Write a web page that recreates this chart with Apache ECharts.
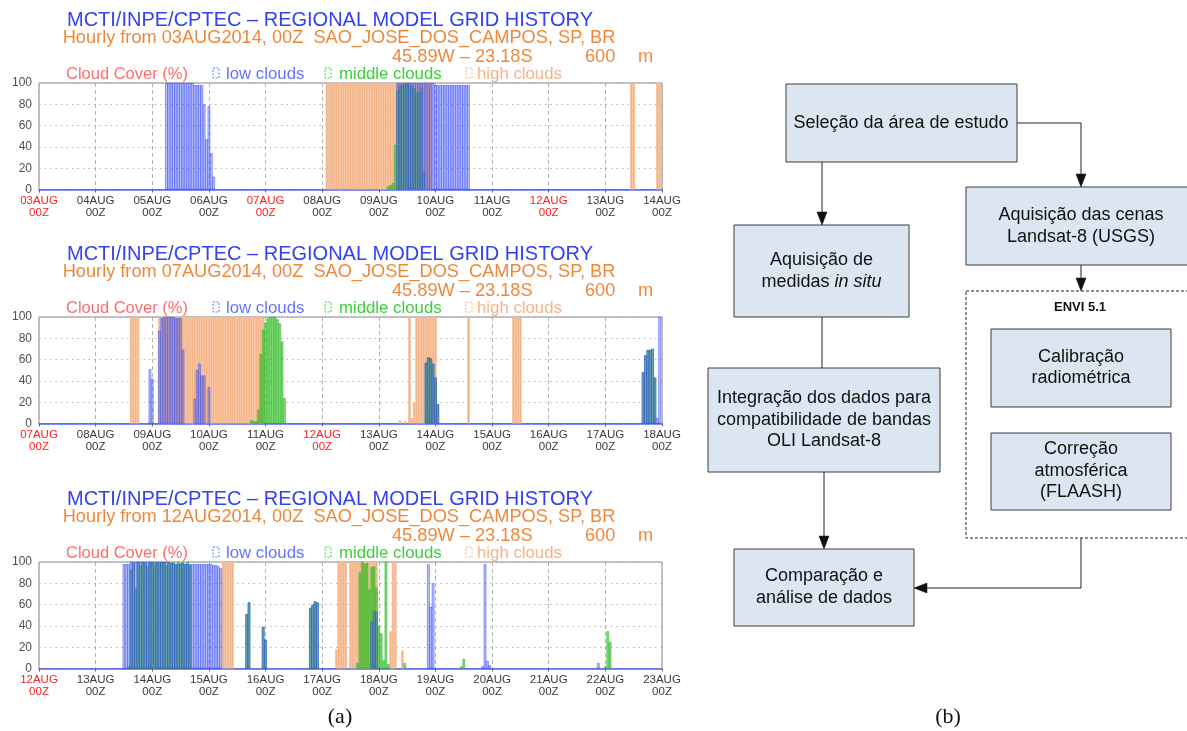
<!DOCTYPE html>
<html><head><meta charset="utf-8">
<script src="https://cdn.jsdelivr.net/npm/echarts@6/dist/echarts.min.js"></script>
<style>html,body{margin:0;padding:0;background:#fff}#c{width:1187px;height:731px}</style>
</head><body><div id="c"></div>
<script>
// ---------- text / tick labels ----------
const titleText = 'MCTI/INPE/CPTEC – REGIONAL MODEL GRID HISTORY';
const startDates = ['03AUG2014', '07AUG2014', '12AUG2014'];
const siteText = 'SAO_JOSE_DOS_CAMPOS, SP, BR';
const coordParts = ['45.89W – 23.18S', '600', 'm'];
const legendTitle = 'Cloud Cover (%)';
const legendNames = ['low clouds', 'middle clouds', 'high clouds'];
const days1 = ['03AUG','04AUG','05AUG','06AUG','07AUG','08AUG','09AUG','10AUG','11AUG','12AUG','13AUG','14AUG'];
const days2 = ['07AUG','08AUG','09AUG','10AUG','11AUG','12AUG','13AUG','14AUG','15AUG','16AUG','17AUG','18AUG'];
const days3 = ['12AUG','13AUG','14AUG','15AUG','16AUG','17AUG','18AUG','19AUG','20AUG','21AUG','22AUG','23AUG'];
const redDays = ['03AUG','07AUG','12AUG'];
const hourLabel = '00Z';
const yTicks = [0, 20, 40, 60, 80, 100];

// ---------- series values: [hour since start, cloud cover %] ----------
const low1 = [[54,100],[55,100],[56,100],[57,100],[58,100],[59,100],[60,100],[61,100],[62,100],[63,100],[64,100],[65,100],[66,98],[67,98],[68,98],[69,98],[70,80],[71,47],[72,78],[73,34],[74,12],
[152,100],[153,100],[154,100],[155,100],[156,100],[157,100],[158,100],[159,100],[160,100],[161,100],[162,100],[163,100],[164,100],[165,100],[166,100],[167,100],[168,98],[169,98],[170,98],[171,98],[172,98],[173,98],[174,98],[175,98],[176,98],[177,98],[178,98],[179,98],[180,98],[181,98],[182,98]];
const mid1 = [[148,3],[149,4],[150,6],[151,42],[152,93],[153,97],[154,98],[155,99],[156,100],[157,98],[158,97],[159,95],[160,91],[161,92],[162,96],[163,17]];
const high1 = [[122,100],[123,100],[124,100],[125,100],[126,100],[127,100],[128,100],[129,100],[130,100],[131,100],[132,100],[133,100],[134,100],[135,100],[136,100],[137,100],[138,100],[139,100],[140,100],[141,100],[142,100],[143,100],[144,100],[145,100],[146,100],[147,100],[148,100],[149,100],[150,100],[151,100],[152,100],[153,100],[154,100],[155,100],[156,100],[157,100],[158,100],[159,100],[160,100],[161,100],[162,100],[163,100],[164,100],[165,100],[166,100],
[251,100],[252,100],[262,100],[263,100]];

const low2 = [[47,51],[48,42],[51,87],[52,99],[53,100],[54,100],[55,100],[56,100],[57,100],[58,99],[59,99],[60,99],[61,69],[66,23],[67,50],[68,56],[69,45],[70,45],[72,34],
[164,57],[165,62],[166,61],[167,56],[168,43],[169,18],[256,48],[257,64],[258,69],[259,69],[260,70],[261,43],[262,5],[263,100]];
const mid2 = [[90,3],[91,2],[92,2],[93,13],[94,65],[95,88],[96,95],[97,99],[98,100],[99,100],[100,100],[101,98],[102,94],[103,77],[104,24],
[164,57],[165,62],[166,61],[167,56],[168,43],[169,18],[256,48],[257,64],[258,69],[259,69],[260,70],[261,43]];
const high2 = [[39,100],[40,100],[41,100],[42,100],
[51,100],[52,100],[53,100],[54,100],[55,100],[56,100],[57,100],[58,100],[59,100],[60,100],[61,100],[62,100],[63,100],[64,100],[65,100],[66,100],[67,100],[68,100],[69,100],[70,100],[71,100],[72,100],[73,100],[74,100],[75,100],[76,100],[77,100],[78,100],[79,100],[80,100],[81,100],[82,100],[83,100],[84,100],[85,100],[86,100],[87,100],[88,100],[89,100],[90,100],[91,100],[92,100],[93,100],[94,100],[95,100],
[153,3],[155,2],[157,100],[158,5],[159,20],[160,100],[161,100],[162,100],[163,100],[164,100],[165,100],[166,100],[167,100],[168,100],[182,100],[201,100],[202,100],[203,100],[204,100]];

const low3 = [[36,98],[37,98],[38,98],[39,100],[40,100],[41,100],[42,100],[43,100],[44,100],[45,100],[46,100],[47,100],[48,100],[49,100],[50,100],[51,100],[52,100],[53,100],[54,100],[55,100],[56,99],[57,99],[58,98],[59,98],[60,98],[61,99],[62,98],[63,98],[64,98],[65,98],[66,98],[67,98],[68,98],[69,98],[70,98],[71,98],[72,98],[73,98],[74,97],[75,97],[76,96],[77,94],
[88,51],[89,62],[95,39],[96,27],[115,57],[116,60],[117,63],[118,62],[141,44],[142,54],[143,53],[165,98],[166,58],[167,80],[188,2],[189,98],[190,7],[191,3],[237,5]];
const mid3 = [[38,2],[39,93],[40,99],[41,75],[42,100],[43,97],[44,100],[45,99],[46,96],[47,100],[48,100],[49,98],[50,100],[51,99],[52,100],[53,100],[54,97],[55,100],[56,99],[57,100],[58,98],[59,100],[60,99],[61,100],[62,98],[63,100],[64,97],
[88,51],[89,62],[95,39],[96,27],[115,57],[116,60],[117,63],[118,62],
[135,5],[136,90],[137,100],[138,98],[139,99],[140,74],[141,95],[142,96],[143,76],[144,40],[145,33],[146,8],[147,100],[148,4],[155,5],[179,2],[180,9],[240,2],[241,35],[242,25]];
const high3 = [[78,100],[79,100],[80,100],[81,100],[82,100],
[126,18],[127,100],[128,100],[129,100],[130,100],[132,100],[133,100],[134,100],[135,100],[136,100],[137,100],[138,100],[139,100],[140,100],[141,100],[142,100],[143,100],[149,35],[150,100],[151,100],[154,17]];

// ---------- flowchart texts ----------
const flowBoxes = [
  'Seleção da área de estudo',
  'Aquisição de\nmedidas {i|in situ}',
  'Aquisição das cenas\nLandsat-8 (USGS)',
  'Calibração\nradiométrica',
  'Correção\natmosférica\n(FLAASH)',
  'Integração dos dados para\ncompatibilidade de bandas\nOLI Landsat-8',
  'Comparação e\nanálise de dados'
];
const groupLabel = 'ENVI 5.1';
const panelLabels = ['(a)', '(b)'];

// ---------- build ----------
const FONT = '"Liberation Sans", Arial, sans-serif';
const dayArrays = [days1, days2, days3];
const lows = [low1, low2, low3], mids = [mid1, mid2, mid3], highs = [high1, high2, high3];
const tops = [83, 317, 562];
const PLOT_L = 39, PLOT_W = 623, PLOT_H = 106.5;

const C_TITLE = '#3440f2', C_SUB = '#f0883c', C_CC = '#ff6c6c';
const C_LOW = '#6474ff', C_MID = '#3ccf3c', C_HIGH = '#f4b487';

const grids = [], xAxes = [], yAxes = [], series = [], graphics = [];
for (let i = 0; i < 3; i++) {
  const days = dayArrays[i];
  grids.push({left: PLOT_L, top: tops[i], width: PLOT_W, height: PLOT_H, show: true,
    borderColor: '#858585', borderWidth: 1, backgroundColor: '#fff'});
  xAxes.push({type: 'value', gridIndex: i, min: 0, max: (days.length - 1) * 24, interval: 24,
    axisLine: {show: true, onZero: false, lineStyle: {color: '#5464ff', width: 1.6}},
    axisTick: {show: true, length: 3, lineStyle: {color: '#666'}},
    splitLine: {show: true, lineStyle: {color: '#b4b4b4', type: [4, 3], width: 1}},
    axisLabel: {margin: 5, showMinLabel: true, showMaxLabel: true,
      formatter: v => { const d = days[Math.round(v / 24)]; const k = redDays.includes(d) ? 'r' : 'k';
        return '{' + k + '|' + d + '}\n{' + k + '|' + hourLabel + '}'; },
      rich: {k: {color: '#3a3a3a', fontSize: 11.5, lineHeight: 12, fontFamily: FONT},
             r: {color: '#ff1e1e', fontSize: 11.5, lineHeight: 12, fontFamily: FONT}}}
  });
  yAxes.push({type: 'value', gridIndex: i, min: yTicks[0], max: yTicks[yTicks.length - 1], interval: 20,
    axisLine: {show: false}, axisTick: {show: false},
    splitLine: {show: true, lineStyle: {color: '#b4b4b4', type: [1.5, 4], width: 1}},
    axisLabel: {color: '#505050', fontSize: 12, fontFamily: FONT, margin: 7}
  });
  const common = {type: 'bar', xAxisIndex: i, yAxisIndex: i, barWidth: 2.5, barGap: '-100%', silent: true, animation: false};
  series.push(Object.assign({}, common, {name: legendNames[2] + i, data: highs[i],
    itemStyle: {color: 'rgb(244,178,132)', borderColor: 'rgb(246,190,152)', borderWidth: 0.7}}));
  series.push(Object.assign({}, common, {name: legendNames[1] + i, data: mids[i],
    itemStyle: {color: 'rgba(70,200,50,0.7)', borderColor: 'rgba(30,175,30,0.9)', borderWidth: 0.5}}));
  series.push(Object.assign({}, common, {name: legendNames[0] + i, data: lows[i],
    itemStyle: {color: 'rgba(85,105,255,0.42)', borderColor: 'rgba(45,65,235,0.9)', borderWidth: 0.5}}));

  const T = tops[i];
  const txt = (x, y, text, color, size, align) => ({type: 'text', silent: true,
    style: {x, y, text, fill: color, font: size + 'px ' + FONT, textAlign: align || 'left', textVerticalAlign: 'middle'}});
  graphics.push(txt(330, T - 63, titleText, C_TITLE, 20, 'center'));
  graphics.push(txt(339, T - 45, 'Hourly from ' + startDates[i] + ', 00Z  ' + siteText, C_SUB, 18.2, 'center'));
  graphics.push(txt(392, T - 26, coordParts[0], C_SUB, 18.2));
  graphics.push(txt(585, T - 26, coordParts[1], C_SUB, 18.2));
  graphics.push(txt(638, T - 26, coordParts[2], C_SUB, 18.2));
  graphics.push(txt(66, T - 9, legendTitle, C_CC, 16.5));
  const legX = [[213, 226, C_LOW], [325, 339, C_MID], [466, 477, C_HIGH]];
  legX.forEach((L, j) => {
    graphics.push({type: 'rect', silent: true, shape: {x: L[0], y: T - 15, width: 6, height: 10},
      style: {fill: 'none', stroke: L[2], lineWidth: 1, lineDash: [2, 1.5]}});
    graphics.push(txt(L[1], T - 9, legendNames[j], L[2], 16.8));
  });
}

// flowchart
const BOX_FILL = '#dce6f2', BOX_STROKE = '#3c3c3c';
const boxGeo = [
  [786, 84, 231, 78, 901, 123],
  [734, 225, 175, 92, 821.5, 271],
  [966, 187, 240, 78, 1081, 226],
  [991, 329, 180, 78, 1081, 367.5],
  [991, 433, 180, 77, 1081, 471],
  [708, 368, 232, 104, 824, 420],
  [734, 549, 180, 77, 824, 587]
];
graphics.push({type: 'rect', silent: true, shape: {x: 966, y: 291, width: 240, height: 247},
  style: {fill: 'none', stroke: '#222', lineWidth: 1, lineDash: [3, 2]}});
boxGeo.forEach((g, k) => {
  graphics.push({type: 'rect', silent: true, shape: {x: g[0], y: g[1], width: g[2], height: g[3]},
    style: {fill: BOX_FILL, stroke: BOX_STROKE, lineWidth: 1}});
  graphics.push({type: 'text', silent: true, style: {x: g[4], y: g[5], text: flowBoxes[k], fill: '#111',
    font: '18px ' + FONT, textAlign: 'center', textVerticalAlign: 'middle', lineHeight: 21.5,
    rich: {i: {fontStyle: 'italic', fontSize: 18, fontFamily: FONT, fill: '#111', lineHeight: 21.5}}}});
});
graphics.push({type: 'text', silent: true, style: {x: 1080, y: 307, text: groupLabel, fill: '#111',
  font: 'bold 13px ' + FONT, textAlign: 'center', textVerticalAlign: 'middle'}});
const lineSt = {stroke: '#222', lineWidth: 1, fill: 'none'};
const lines = [
  [[822, 162], [822, 214]],
  [[1017, 123], [1081, 123], [1081, 176]],
  [[1081, 265], [1081, 280]],
  [[822, 317], [822, 368]],
  [[824, 472], [824, 538]],
  [[1081, 538], [1081, 588], [926, 588]]
];
lines.forEach(p => graphics.push({type: 'polyline', silent: true, shape: {points: p}, style: lineSt}));
const heads = [
  [[817, 212], [827, 212], [822, 225]],
  [[1076, 174], [1086, 174], [1081, 187]],
  [[1076, 278], [1086, 278], [1081, 291]],
  [[819, 536], [829, 536], [824, 549]],
  [[927, 583], [927, 593], [914, 588]]
];
heads.forEach(p => graphics.push({type: 'polygon', silent: true, shape: {points: p}, style: {fill: '#111', stroke: '#111', lineWidth: 0.5}}));
graphics.push({type: 'text', silent: true, style: {x: 340, y: 717, text: panelLabels[0], fill: '#111',
  font: '22px "Liberation Serif", "Times New Roman", serif', textAlign: 'center', textVerticalAlign: 'middle'}});
graphics.push({type: 'text', silent: true, style: {x: 948, y: 717, text: panelLabels[1], fill: '#111',
  font: '22px "Liberation Serif", "Times New Roman", serif', textAlign: 'center', textVerticalAlign: 'middle'}});

const chart = echarts.init(document.getElementById('c'), null, {renderer: 'canvas'});
chart.setOption({
  backgroundColor: '#fff', animation: false,
  grid: grids, xAxis: xAxes, yAxis: yAxes, series: series,
  graphic: {elements: graphics}
});
</script></body></html>
